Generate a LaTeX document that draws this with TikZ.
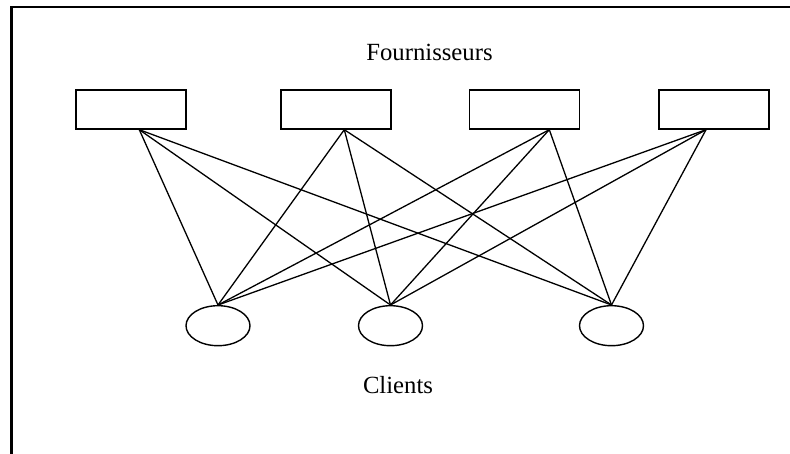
\documentclass[tikz,border=0pt]{standalone}
\usepackage{fontspec}
\setmainfont{Liberation Serif}
\usetikzlibrary{shapes.geometric}
\tikzset{
  supbox/.style={draw, line width=1.4pt, minimum width=110pt, minimum height=39pt, inner sep=0pt},
  cliell/.style={draw, ellipse, line width=1.4pt, minimum width=64pt, minimum height=40pt, inner sep=0pt},
  link/.style={line width=1.3pt},
  lbl/.style={font=\fontsize{24.7pt}{28pt}\selectfont, anchor=base, inner sep=0pt}
}
\begin{document}
\begin{tikzpicture}[x=1pt,y=-1pt]
\clip (0,0) rectangle (790,454);
\draw[line width=2.2pt] (11.5,7) rectangle (820,480);
\node[lbl] (tf) at (429.5,60.7) {Fournisseurs};
\node[lbl] (tc) at (398,393) {Clients};
\node[supbox] (b1) at (131,109.5) {};
\node[supbox] (b2) at (336,109.5) {};
\node[supbox] (b3) at (524.5,109.5) {};
\node[supbox] (b4) at (714,109.5) {};
\node[cliell] (c1) at (218,325.7) {};
\node[cliell] (c2) at (390.5,325.7) {};
\node[cliell] (c3) at (611.5,325.7) {};
\coordinate (p1) at ([xshift=8.3pt]b1.south);
\coordinate (p2) at ([xshift=8.3pt]b2.south);
\coordinate (p3) at ([xshift=24.8pt]b3.south);
\coordinate (p4) at ([xshift=-8pt]b4.south);
\foreach \p in {p1,p2,p3,p4}{
  \foreach \c in {c1,c2,c3}{
    \draw[link] (\p) -- (\c.north);
  }
}
\end{tikzpicture}
\end{document}
